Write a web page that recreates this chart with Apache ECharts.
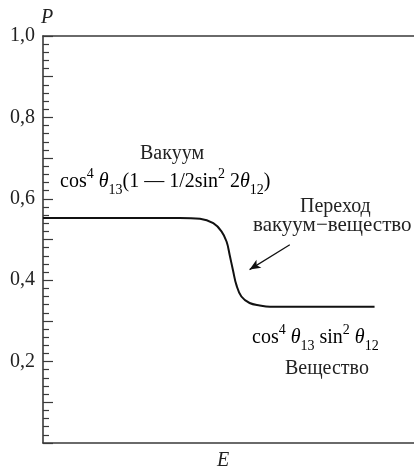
<!DOCTYPE html>
<html>
<head>
<meta charset="utf-8">
<script src="https://cdn.jsdelivr.net/npm/echarts@6/dist/echarts.min.js"></script>
<style>
html,body{margin:0;padding:0;background:#fff;}
#chart{width:414px;height:470px;}
</style>
</head>
<body>
<div id="chart"></div>
<script>
// Energy (arbitrary units) and probability P
const energy = [0, 20, 35, 40.2, 43.6, 45.7, 47.0, 47.8, 48.7, 49.5, 50.8, 52.9, 55.5, 58.1, 70, 84.9];
const probability = [0.553, 0.553, 0.553, 0.551, 0.540, 0.520, 0.495, 0.462, 0.422, 0.389, 0.360, 0.344, 0.338, 0.335, 0.335, 0.335];
const yTicks = [0.2, 0.4, 0.6, 0.8, 1.0];
const arrowFrom = [63.2, 0.487];
const arrowTo = [52.9, 0.426];

const FONT = '"Liberation Serif", "Times New Roman", serif';
const INK = '#222';
const AX = '#3a3a3a';

const chart = echarts.init(document.getElementById('chart'), null, {renderer: 'canvas'});
const rich = {
  n: {fontFamily: FONT, fontSize: 20, color: INK},
  it: {fontFamily: FONT, fontSize: 20, fontStyle: 'italic', color: INK},
  sup: {fontFamily: FONT, fontSize: 14, color: INK, verticalAlign: 'top', lineHeight: 30},
  sub: {fontFamily: FONT, fontSize: 14, color: INK, verticalAlign: 'bottom', lineHeight: 30}
};

chart.setOption({
  animation: false,
  grid: {left: 43, right: 0, top: 36, bottom: 27, outerBoundsMode: 'none'},
  xAxis: [
    {type: 'value', min: 0, max: 95, position: 'bottom',
     axisLine: {show: true, lineStyle: {color: AX, width: 1.6}},
     axisTick: {show: false}, axisLabel: {show: false}, splitLine: {show: false}},
    {type: 'value', min: 0, max: 95, position: 'top',
     axisLine: {show: true, lineStyle: {color: AX, width: 1.6}},
     axisTick: {show: false}, axisLabel: {show: false}, splitLine: {show: false}}
  ],
  yAxis: {
    type: 'value', min: 0, max: 1, interval: 0.1,
    axisLine: {show: true, lineStyle: {color: AX, width: 1.6}},
    axisTick: {show: true, inside: true, length: 10, lineStyle: {color: AX, width: 1.2}},
    minorTick: {show: true, splitNumber: 5, length: 6, lineStyle: {color: AX, width: 1.2}},
    splitLine: {show: false},
    axisLabel: {
      margin: 8, fontFamily: FONT, fontSize: 20, color: INK,
      formatter: function (v) {
        const r = Math.round(v * 10) / 10;
        return yTicks.some(t => Math.abs(t - r) < 1e-6) ? r.toFixed(1).replace('.', ',') : '';
      }
    }
  },
  series: [{
    type: 'line', data: energy.map((e, i) => [e, probability[i]]),
    smooth: 0.4, showSymbol: false, symbol: 'none',
    lineStyle: {color: '#111', width: 2},
    markLine: {
      silent: true, symbol: ['none', 'arrow'], symbolSize: [7, 11],
      label: {show: false},
      lineStyle: {color: '#111', width: 1.2, type: 'solid'},
      data: [[{coord: arrowFrom}, {coord: arrowTo}]]
    }
  }],
  graphic: [
    {type: 'text', left: 41, top: 8, style: {text: 'P', font: 'italic 20px ' + FONT, fill: INK}},
    {type: 'text', left: 217, top: 451, style: {text: 'E', font: 'italic 20px ' + FONT, fill: INK}},
    {type: 'text', left: 140, top: 144, style: {text: 'Вакуум', font: '20px ' + FONT, fill: INK}},
    {type: 'text', left: 60, top: 167, style: {text: '{n|cos}{sup|4}{n| }{it|θ}{sub|13}{n|(1 — 1/2sin}{sup|2}{n| 2}{it|θ}{sub|12}{n|)}', rich: rich}},
    {type: 'text', left: 300, top: 197, style: {text: 'Переход', font: '20px ' + FONT, fill: INK}},
    {type: 'text', left: 253, top: 215, style: {text: 'вакуум−вещество', font: '21px ' + FONT, fill: INK}},
    {type: 'text', left: 252, top: 323, style: {text: '{n|cos}{sup|4}{n| }{it|θ}{sub|13}{n| sin}{sup|2}{n| }{it|θ}{sub|12}', rich: rich}},
    {type: 'text', left: 285, top: 359, style: {text: 'Вещество', font: '20px ' + FONT, fill: INK}}
  ]
});
</script>
</body>
</html>
